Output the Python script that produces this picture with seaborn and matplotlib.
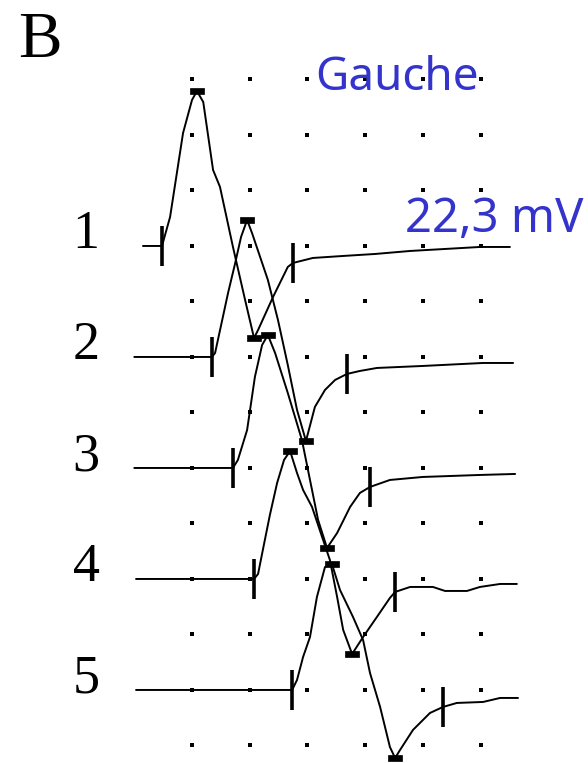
import numpy as np
import pandas as pd
import matplotlib
matplotlib.use("Agg")
import matplotlib.pyplot as plt
from matplotlib.path import Path
import seaborn as sns

# ---------------- data (time in ms, amplitude in mV relative to each trace baseline) -------------
trace_labels = ["1", "2", "3", "4", "5"]

t1 = [0.30, 0.96, 1.24, 1.69, 2.00, 2.17, 2.39, 2.73, 2.97, 3.42, 3.84, 4.15, 4.29, 4.81, 5.32, 5.50,
      6.19, 7.24, 8.35, 9.56, 10.77, 11.98, 13.02]
v1 = [0.0, 0.0, 2.61, 10.18, 13.15, 13.96, 12.97, 6.85, 5.32, -0.09, -4.86, -8.29, -7.57, -4.59, -1.89, -1.53,
      -1.08, -0.90, -0.72, -0.45, -0.27, -0.09, -0.09]

t2 = [0.0, 2.69, 2.80, 3.07, 3.25, 3.49, 3.70, 3.91, 4.08, 4.63, 4.98, 5.32, 5.64, 5.95, 6.26, 6.61, 6.96,
      7.37, 7.82, 8.41, 10.00, 12.09, 13.13]
v2 = [0.0, 0.0, 0.36, 3.60, 5.77, 8.38, 10.81, 12.34, 11.17, 6.94, 3.33, -0.72, -4.77, -7.57, -4.50, -2.97, -2.07,
      -1.53, -1.26, -0.99, -0.81, -0.54, -0.54]

t3 = [0.0, 3.42, 3.59, 3.91, 4.18, 4.43, 4.63, 4.88, 5.32, 5.81, 6.09, 6.37, 6.68, 7.03, 7.48, 7.82, 8.17,
      8.86, 10.00, 11.98, 13.20]
v3 = [0.0, 0.0, 0.72, 3.42, 8.20, 11.08, 11.98, 10.36, 6.76, 2.52, -1.08, -4.68, -7.21, -5.86, -3.51, -2.25, -1.71,
      -1.08, -0.81, -0.63, -0.54]

t4 = [0.06, 4.15, 4.29, 4.49, 4.70, 4.95, 5.19, 5.40, 5.64, 5.85, 6.16, 6.51, 6.78, 7.03, 7.24, 7.55, 7.93,
      8.41, 8.86, 9.04, 9.56, 10.35, 10.77, 11.53, 11.98, 12.68, 13.26]
v4 = [0.0, 0.0, 0.45, 3.06, 5.77, 8.65, 10.72, 11.53, 9.55, 8.02, 6.49, 3.78, 1.71, -1.62, -4.59, -6.76, -5.23,
      -3.42, -1.71, -1.17, -0.72, -0.72, -1.08, -1.08, -0.72, -0.45, -0.45]

t5 = [0.06, 5.47, 5.64, 5.85, 6.09, 6.33, 6.61, 6.85, 7.13, 7.58, 7.93, 8.17, 8.52, 8.86, 9.04, 9.21, 9.66,
      10.25, 10.70, 11.18, 12.09, 12.68, 13.30]
v5 = [0.0, 0.0, 0.90, 2.97, 4.77, 8.38, 11.08, 11.35, 9.01, 6.58, 4.50, 1.53, -1.53, -5.14, -6.13, -5.41, -3.60,
      -2.07, -1.53, -1.17, -1.08, -0.72, -0.72]

# cursors
onset_ms = [0.96, 2.69, 3.42, 4.15, 5.47]
end_ms = [5.50, 7.37, 8.17, 9.04, 10.70]
end_mv = [-1.53, -1.53, -1.71, -1.17, -1.53]
peak_ms = [2.17, 3.91, 4.63, 5.40, 6.85]
peak_mv = [13.96, 12.34, 11.98, 11.53, 11.35]
trough_ms = [4.15, 5.95, 6.68, 7.55, 9.04]
trough_mv = [-8.29, -7.57, -7.21, -6.76, -6.13]

trace_gap_mv = 10.0          # 2 divisions of 5 mV between traces
grid_ms = [2, 4, 6, 8, 10, 12]
grid_mv = [15, 10, 5, 0, -5, -10, -15, -20, -25, -30, -35, -40, -45]

title_text = "Gauche"
amp_text = "22,3 mV"
panel_text = "B"

# ---------------- figure -------------
sns.set_theme(style="white")
plt.rcParams["font.family"] = ["DejaVu Sans"]

fig = plt.figure(figsize=(5.88, 7.63), dpi=100)
ax = fig.add_axes([0, 0, 1, 1])
ax.set_xlim(-4.655, 15.726)
ax.set_ylim(-46.58, 22.16)
ax.axis("off")

# grid dots
gx, gy = np.meshgrid(grid_ms, grid_mv)
dots = pd.DataFrame({"t": gx.ravel(), "v": gy.ravel()})
sns.scatterplot(data=dots, x="t", y="v", marker="s", s=5, color="black", linewidth=0, ax=ax, zorder=2)

# traces
ts = [t1, t2, t3, t4, t5]
vs = [v1, v2, v3, v4, v5]
rows = []
for k, (tt, vv) in enumerate(zip(ts, vs)):
    off = -trace_gap_mv * k
    for a, b in zip(tt, vv):
        rows.append({"trace": trace_labels[k], "t": a, "v": b + off})
df = pd.DataFrame(rows)
sns.lineplot(data=df, x="t", y="v", units="trace", estimator=None, sort=False,
             color="black", linewidth=1.4, ax=ax, zorder=3)

offs = [-trace_gap_mv * k for k in range(5)]

# vertical cursors (onset and end)
cur = pd.DataFrame({"t": onset_ms + end_ms,
                    "v": offs + [e + o for e, o in zip(end_mv, offs)]})
sns.scatterplot(data=cur, x="t", y="v", marker="|", s=820, color="black",
                linewidth=2.6, ax=ax, zorder=4)

# peak/trough rectangles
rect = Path([(-1.0, -0.45), (1.0, -0.45), (1.0, 0.45), (-1.0, 0.45), (-1.0, -0.45)],
            [Path.MOVETO, Path.LINETO, Path.LINETO, Path.LINETO, Path.CLOSEPOLY])
pk = pd.DataFrame({"t": peak_ms + trough_ms,
                   "v": [p + o for p, o in zip(peak_mv, offs)] + [p + o for p, o in zip(trough_mv, offs)]})
sns.scatterplot(data=pk, x="t", y="v", marker=rect, s=90, color="black", linewidth=0.5,
                edgecolor="black", ax=ax, zorder=5)

# trace numbers
for k, lab in enumerate(trace_labels):
    ax.text(-1.67, offs[k] - 0.2, lab, ha="center", va="baseline",
            fontsize=39, family="Liberation Serif", color="black")

ax.text(-4.03, 17.03, panel_text, ha="left", va="baseline", fontsize=47,
        family="Liberation Serif", color="black")

blue = "#3434CC"
ax.text(6.28, 14.05, title_text, ha="left", va="baseline", fontsize=33,
        family="Noto Sans", color=blue)
ax.text(9.38, 1.26, amp_text, ha="left", va="baseline", fontsize=34,
        family="Noto Sans", color=blue)

fig.savefig("out.png", dpi=100, facecolor="white")
